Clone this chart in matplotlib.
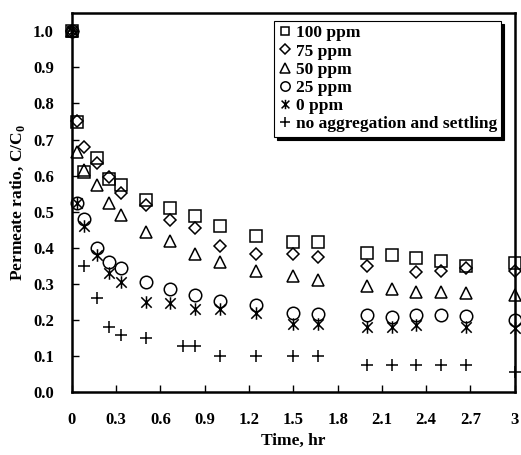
import numpy as np
import matplotlib.pyplot as plt
from matplotlib.path import Path

plt.rcParams['font.family'] = ['Liberation Serif', 'DejaVu Serif']
plt.rcParams['font.weight'] = 'bold'
plt.rcParams['mathtext.fontset'] = 'custom'
plt.rcParams['mathtext.bf'] = 'Liberation Serif:bold'
plt.rcParams['mathtext.rm'] = 'Liberation Serif:bold'

nan = np.nan
time_hr = [0, 0.033, 0.083, 0.167, 0.25, 0.333, 0.5, 0.667, 0.833, 1.0,
           1.25, 1.5, 1.667, 2.0, 2.167, 2.333, 2.5, 2.667, 3.0]

ppm_100 = [1.0, 0.748, 0.61, 0.648, 0.59, 0.573, 0.532, 0.51, 0.488, 0.46,
           0.432, 0.416, 0.415, 0.385, 0.38, 0.371, 0.363, 0.349, 0.357]
ppm_75 = [1.0, 0.75, 0.68, 0.634, 0.595, 0.552, 0.518, 0.478, 0.454, 0.405,
          0.382, 0.382, 0.374, 0.349, nan, 0.332, 0.335, 0.345, 0.335]
ppm_50 = [1.0, 0.665, 0.615, 0.573, 0.523, 0.49, 0.443, 0.418, 0.382, 0.36,
          0.335, 0.322, 0.31, 0.294, 0.285, 0.277, 0.277, 0.274, 0.269]
ppm_25 = [1.0, 0.525, 0.48, 0.40, 0.36, 0.343, 0.305, 0.285, 0.268, 0.252,
          0.241, 0.219, 0.217, 0.215, 0.208, 0.215, 0.215, 0.21, 0.2]
ppm_0 = [1.0, 0.525, 0.46, 0.38, 0.33, 0.305, 0.25, 0.247, 0.23, 0.23,
         0.219, 0.19, 0.188, 0.18, 0.18, 0.185, nan, 0.18, 0.178]

time_noagg = [0, 0.083, 0.167, 0.25, 0.333, 0.5, 0.75, 0.833, 1.0, 1.25,
              1.5, 1.667, 2.0, 2.167, 2.333, 2.5, 2.667, 3.0]
no_agg = [1.0, 0.349, 0.26, 0.18, 0.158, 0.149, 0.128, 0.128, 0.10, 0.10,
          0.10, 0.10, 0.075, 0.075, 0.075, 0.075, 0.075, 0.055]

labels = ['100 ppm', '75 ppm', '50 ppm', '25 ppm', '0 ppm',
          'no aggregation and settling']

# Excel style star: X with a vertical bar
star = Path([(-1, -1), (1, 1), (-1, 1), (1, -1), (0, -1.2), (0, 1.2)],
            [Path.MOVETO, Path.LINETO, Path.MOVETO, Path.LINETO,
             Path.MOVETO, Path.LINETO])

fig = plt.figure(figsize=(5.21, 4.55), dpi=100)
ax = fig.add_axes([0.138, 0.138, 0.850, 0.833])

series = [(time_hr, ppm_100, 's', 8.5), (time_hr, ppm_75, 'D', 6.5),
          (time_hr, ppm_50, '^', 9), (time_hr, ppm_25, 'o', 9),
          (time_hr, ppm_0, star, 9), (time_noagg, no_agg, '+', 9)]
for (t, v, m, ms), lab in zip(series, labels):
    ax.plot(t, v, linestyle='none', marker=m, markersize=ms,
            markerfacecolor='none', markeredgecolor='black',
            markeredgewidth=1.1, label=lab, clip_on=False)

ax.set_xlim(0, 3)
ax.set_ylim(0, 1.05)
xt = [0, 0.3, 0.6, 0.9, 1.2, 1.5, 1.8, 2.1, 2.4, 2.7, 3]
ax.set_xticks(xt)
ax.set_xticklabels(['0', '0.3', '0.6', '0.9', '1.2', '1.5', '1.8', '2.1',
                    '2.4', '2.7', '3'])
ax.set_yticks(np.arange(0, 1.01, 0.1))
ax.set_yticklabels([f'{y:.1f}' for y in np.arange(0, 1.01, 0.1)])
ax.tick_params(direction='in', length=5, width=1, labelsize=12)
ax.tick_params(axis='x', pad=14)
ax.tick_params(axis='y', pad=13)
for s in ax.spines.values():
    s.set_linewidth(1.8)

ax.set_xlabel('Time, hr', fontsize=12.5, fontweight='bold', labelpad=4)
ax.set_ylabel('Permeate ratio, C/C$_\\mathbf{0}$', fontsize=12.5,
              fontweight='bold', labelpad=4)

leg = ax.legend(loc='upper right', bbox_to_anchor=(0.97, 0.98),
                fancybox=False, shadow={'color': 'black', 'alpha': 1},
                framealpha=1, edgecolor='black',
                prop={'weight': 'bold', 'size': 12.5},
                handlelength=0.7, handletextpad=0.3, labelspacing=0.12,
                borderpad=0.25, borderaxespad=0, markerscale=0.75)
leg.get_frame().set_linewidth(0.8)

fig.savefig('out.png', dpi=100)
